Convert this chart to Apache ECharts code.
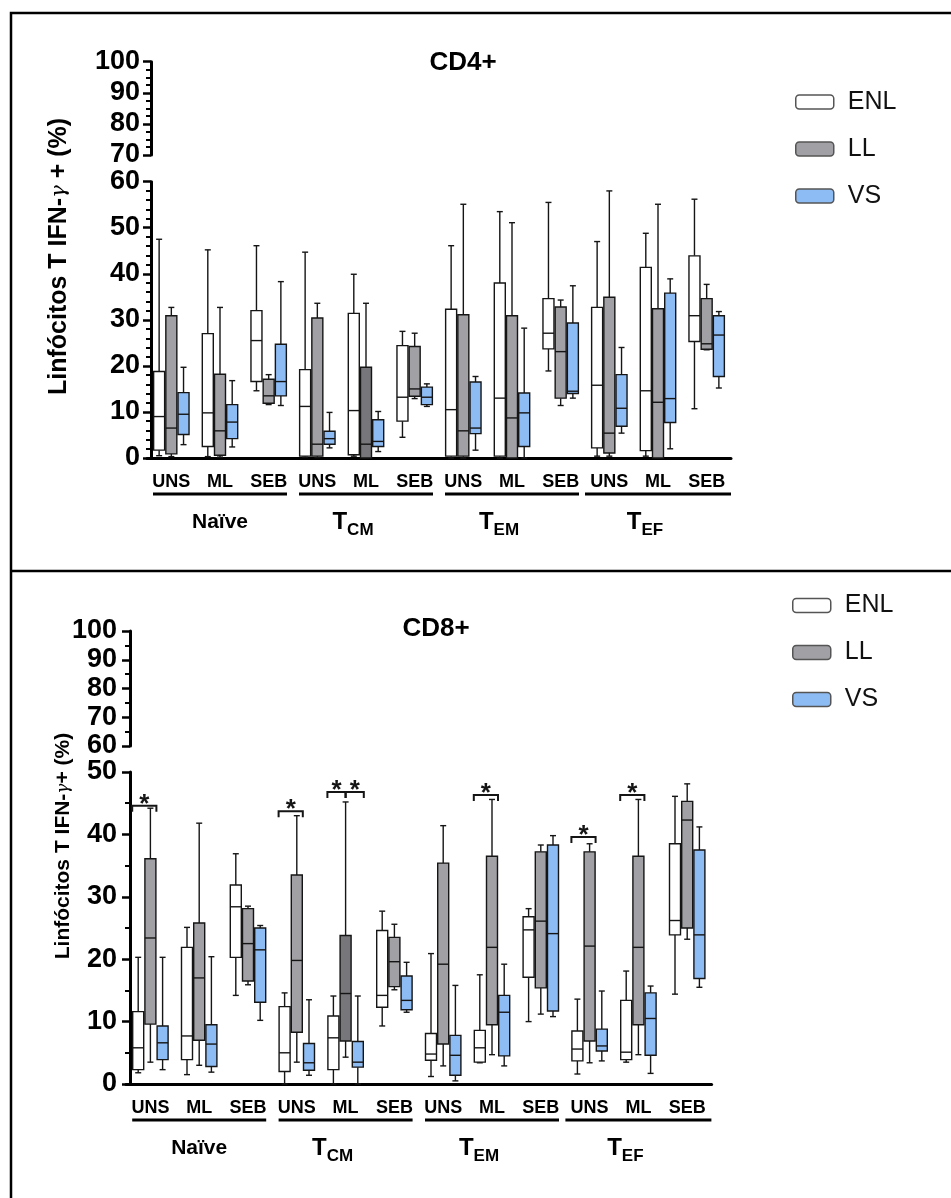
<!DOCTYPE html>
<html>
<head>
<meta charset="utf-8">
<script src="https://cdn.jsdelivr.net/npm/echarts@6/dist/echarts.min.js"></script>
<style>
  html, body { margin: 0; padding: 0; background: #fff; }
  #chart { width: 951px; height: 1198px; }
</style>
</head>
<body>
<div id="chart"></div>
<script>
// categories
const stimuli = ['UNS', 'ML', 'SEB'];
const cellTypes = ['Naïve', 'T_CM', 'T_EM', 'T_EF'];
const groupNames = ['ENL', 'LL', 'VS'];
const categories = [].concat(...cellTypes.map(() => stimuli));

// [min, q1, median, q3, max] for each category, in the order of `categories`
const cd4ENL = [
  [0.5, 1.7, 9.0, 18.8, 47.5], [0.3, 2.5, 9.8, 27.0, 45.2], [14.6, 16.6, 25.5, 32.0, 46.1],
  [0.2, 0.4, 11.2, 19.2, 44.7], [0.4, 0.7, 10.3, 31.4, 39.9], [4.5, 8.0, 13.2, 24.4, 27.5],
  [0, 0.4, 10.5, 32.3, 46.1], [0, 0.4, 13.0, 38.0, 53.5], [18.9, 23.7, 27.1, 34.6, 55.5],
  [0.4, 2.2, 15.8, 32.7, 47.0], [0.4, 1.6, 14.6, 41.4, 48.8], [10.7, 25.3, 30.9, 43.9, 56.2]
];
const cd4LL = [
  [0.3, 0.9, 6.5, 30.9, 32.7], [0.2, 0.6, 5.9, 18.2, 32.7], [11.6, 11.9, 13.5, 17.1, 18.1],
  [0.1, 0.4, 3.0, 30.4, 33.6], [0, 0, 3.0, 19.7, 33.6], [12.9, 13.4, 15.0, 24.2, 27.1],
  [0, 0.4, 5.9, 31.1, 55.1], [0, 0, 8.7, 30.9, 51.1], [11.4, 13.0, 23.1, 32.8, 34.3],
  [0.4, 1.1, 5.4, 34.9, 58.0], [0, 0, 12.1, 32.4, 55.1], [23.5, 23.6, 24.8, 34.6, 37.7]
];
const cd4VS = [
  [2.9, 5.1, 9.5, 14.2, 19.7], [2.4, 4.2, 7.8, 11.6, 16.8], [11.4, 13.5, 16.6, 24.7, 38.3],
  [2.2, 3.0, 4.2, 5.8, 9.9], [1.4, 2.5, 3.6, 8.3, 10.1], [11.2, 11.6, 13.2, 15.4, 16.1],
  [1.7, 5.3, 6.5, 16.5, 17.7], [0, 2.5, 9.8, 14.1, 28.2], [13.0, 14.0, 14.5, 29.3, 37.4],
  [5.4, 6.9, 10.8, 18.1, 24.0], [2.0, 7.7, 12.9, 35.8, 38.9], [15.2, 17.7, 26.7, 30.9, 31.8]
];

const cd8ENL = [
  [1.8, 2.3, 5.8, 11.6, 20.3], [1.5, 3.9, 7.7, 21.9, 25.1], [14.2, 20.3, 28.4, 31.9, 36.9],
  [0, 2.0, 5.0, 12.4, 14.6], [0, 2.3, 7.4, 10.9, 14.1], [9.3, 12.3, 14.2, 24.6, 27.7],
  [1.2, 3.8, 4.8, 8.1, 20.9], [3.4, 3.5, 5.8, 8.6, 17.5], [10.0, 17.1, 24.7, 26.8, 28.1],
  [1.6, 3.7, 5.6, 8.5, 13.6], [3.5, 3.9, 5.1, 13.4, 18.1], [14.4, 23.9, 26.2, 38.5, 46.1]
];
const cd8LL = [
  [3.5, 9.6, 23.4, 36.1, 44.2], [3.0, 7.0, 17.0, 25.8, 41.8], [15.9, 16.5, 22.5, 28.1, 28.5],
  [3.5, 8.3, 19.8, 33.5, 43.0], [4.3, 6.9, 14.5, 23.8, 45.2], [15.1, 15.6, 19.6, 23.5, 25.6],
  [2.9, 6.4, 19.2, 35.4, 41.4], [4.7, 9.5, 21.9, 36.5, 45.6], [11.2, 15.4, 26.1, 37.2, 38.3],
  [3.4, 6.9, 22.1, 37.2, 38.5], [4.7, 9.5, 21.9, 36.5, 45.6], [23.2, 25.0, 42.3, 45.3, 48.1]
];
const cd8VS = [
  [2.3, 3.9, 6.6, 9.3, 20.3], [1.9, 2.8, 6.4, 9.5, 20.4], [10.2, 13.1, 21.5, 25.0, 25.4],
  [1.4, 2.2, 3.4, 6.5, 13.5], [0, 2.7, 3.5, 6.8, 14.1], [11.5, 11.9, 13.4, 17.3, 19.5],
  [0.5, 1.4, 4.6, 7.8, 15.8], [2.9, 4.5, 11.5, 14.2, 19.2], [10.8, 11.7, 24.1, 38.3, 39.8],
  [3.7, 5.3, 6.1, 8.8, 14.9], [1.7, 4.6, 10.5, 14.6, 15.7], [15.5, 16.9, 23.9, 37.5, 41.2]
];

// significance brackets: [category, from box slot, to box slot, height]
const cd8Brackets = [
  [0, 0, 1, 44.6], [3, 0, 1, 43.7], [4, 0, 0.5, 46.8], [4, 1.5, 2, 46.8],
  [7, 0, 1, 46.3], [9, 0, 1, 39.6], [10, 0, 1, 46.3]
];

const FONT = 'Liberation Sans, Arial, Helvetica, sans-serif';
const fills = ['#ffffff', '#a0a0a5', '#8dbcf5'];
const darkerLL = { 4: '#77777b' };   // T_CM / ML box of LL is printed darker
const STROKE = '#151515';
const SLOT = 12.2;   // px between boxes of one category
const BOX_W = 11;
const CAP_W = 6;

function boxRender(slot, fill) {
  return function (params, api) {
    const cat = api.value(0);
    const pMin = api.coord([cat, api.value(1)]);
    const pQ1 = api.coord([cat, api.value(2)]);
    const pMed = api.coord([cat, api.value(3)]);
    const pQ3 = api.coord([cat, api.value(4)]);
    const pMax = api.coord([cat, api.value(5)]);
    const x = pMin[0] + (slot - 1) * SLOT;
    const h = BOX_W / 2, c = CAP_W / 2;
    const boxFill = slot === 1 && darkerLL[cat] ? darkerLL[cat] : fill;
    const ln = (x1, y1, x2, y2) => ({
      type: 'line', shape: { x1, y1, x2, y2 },
      style: { stroke: STROKE, lineWidth: 1.4 }
    });
    return {
      type: 'group',
      children: [
        ln(x, pMax[1], x, pQ3[1]),
        ln(x, pQ1[1], x, pMin[1]),
        ln(x - c, pMax[1], x + c, pMax[1]),
        ln(x - c, pMin[1], x + c, pMin[1]),
        {
          type: 'rect',
          shape: { x: x - h, y: pQ3[1], width: BOX_W, height: pQ1[1] - pQ3[1] },
          style: { fill: boxFill, stroke: STROKE, lineWidth: 1.4 }
        },
        ln(x - h, pMed[1], x + h, pMed[1])
      ]
    };
  };
}

function boxSeries(rows, slot, xi, yi) {
  return {
    type: 'custom',
    name: groupNames[slot],
    xAxisIndex: xi,
    yAxisIndex: yi,
    itemStyle: { color: fills[slot], borderColor: STROKE },
    encode: { x: 0, y: [1, 2, 3, 4, 5] },
    data: rows.map((r, i) => [i].concat(r)),
    renderItem: boxRender(slot, fills[slot]),
    z: 3
  };
}

function bracketSeries(rows, xi, yi) {
  return {
    type: 'custom',
    xAxisIndex: xi,
    yAxisIndex: yi,
    encode: { x: 0, y: 3 },
    data: rows,
    z: 4,
    renderItem: function (params, api) {
      const p = api.coord([api.value(0), api.value(3)]);
      const x1 = p[0] + (api.value(1) - 1) * SLOT - 6;
      const x2 = p[0] + (api.value(2) - 1) * SLOT + 6;
      const y = p[1];
      return {
        type: 'group',
        children: [
          {
            type: 'polyline',
            shape: { points: [[x1, y + 6], [x1, y], [x2, y], [x2, y + 6]] },
            style: { stroke: STROKE, lineWidth: 2, fill: null }
          },
          {
            type: 'text',
            style: {
              text: '*', x: (x1 + x2) / 2, y: y + 12, align: 'center', verticalAlign: 'bottom',
              font: 'bold 26px ' + FONT, fill: STROKE
            }
          }
        ]
      };
    }
  };
}

// layout of the two panels
const panels = [
  { left: 147, width: 584, upTop: 61.7, upBottom: 155, lowTop: 181.7, base: 458,
    upMin: 70, upMinor: 4, lowMax: 60, lowMinor: 5, labelMargin: 11,
    nameTop: 58, nameBottom: 455, nameGap: 75, nameSize: 25,
    nameText: '{a|Linfócitos T IFN-}{g|γ}{a| + (%)}' },
  { left: 126, width: 585.6, upTop: 631, upBottom: 746, lowTop: 772, base: 1084,
    upMin: 60, upMinor: 2, lowMax: 50, lowMinor: 2, labelMargin: 13,
    nameTop: 620, nameBottom: 1072, nameGap: 52, nameSize: 21,
    nameText: '{a|Linfócitos T IFN-}{g|γ}{a|+ (%)}' }
];

const grid = [], xAxis = [], yAxis = [];
const axisLine = { show: true, lineStyle: { color: '#000', width: 3 } };
const tickLabel = { color: '#000', fontFamily: FONT, fontWeight: 'bold', fontSize: 27 };

panels.forEach((p, k) => {
  const g0 = k * 3;
  grid.push({ left: p.left, width: p.width, top: p.upTop, height: p.upBottom - p.upTop });
  grid.push({ left: p.left, width: p.width, top: p.lowTop, height: p.base - p.lowTop });
  grid.push({ left: p.left, width: p.width, top: p.nameTop, height: p.nameBottom - p.nameTop });

  // upper (break) segment
  xAxis.push({ type: 'category', gridIndex: g0, data: categories, show: false });
  yAxis.push({
    type: 'value', gridIndex: g0, min: p.upMin, max: 100, interval: 10, offset: -4,
    axisLine, axisTick: { show: true, length: 8, lineStyle: { color: '#000', width: 2.5 } },
    minorTick: { show: true, splitNumber: p.upMinor, length: 5, lineStyle: { color: '#000', width: 2 } },
    splitLine: { show: false },
    axisLabel: Object.assign({ margin: p.labelMargin }, tickLabel)
  });

  // lower segment with the data
  xAxis.push({
    type: 'category', gridIndex: g0 + 1, data: categories, position: 'bottom',
    axisLine, axisTick: { show: false },
    axisLabel: { interval: 0, margin: 15, color: '#000', fontFamily: FONT, fontWeight: 'bold', fontSize: 18 }
  });
  yAxis.push({
    type: 'value', gridIndex: g0 + 1, min: 0, max: p.lowMax, interval: 10, offset: -4,
    axisLine, axisTick: { show: true, length: 8, lineStyle: { color: '#000', width: 2.5 } },
    minorTick: { show: true, splitNumber: p.lowMinor, length: 5, lineStyle: { color: '#000', width: 2 } },
    splitLine: { show: false },
    axisLabel: Object.assign({ margin: p.labelMargin }, tickLabel)
  });

  // group labels under the stimulus labels
  xAxis.push({
    type: 'category', gridIndex: g0 + 1, data: cellTypes, position: 'bottom',
    axisLine: { show: false }, axisTick: { show: false },
    axisLabel: {
      interval: 0, margin: 34.5, color: '#000', fontFamily: FONT, fontWeight: 'bold',
      formatter: function (v, i) {
        const parts = v.split('_');
        const name = parts.length > 1 ? '{t|' + parts[0] + '}{s|' + parts[1] + '}' : '{n|' + v + '}';
        return (i === 3 ? '{bar2|}' : '{bar|}') + '\n' + name;
      },
      rich: {
        bar: { width: 134, height: 3, lineHeight: 3, backgroundColor: '#000' },
        bar2: { width: 146, height: 3, lineHeight: 3, backgroundColor: '#000' },
        n: { fontSize: 21, fontWeight: 'bold', fontFamily: FONT, lineHeight: 54, color: '#000' },
        t: { fontSize: 24, fontWeight: 'bold', fontFamily: FONT, lineHeight: 54, color: '#000' },
        s: { fontSize: 17, fontWeight: 'bold', fontFamily: FONT, lineHeight: 54, color: '#000',
             padding: [16, 26, 0, 0] }
      }
    }
  });

  // axis title spanning both segments
  xAxis.push({ type: 'category', gridIndex: g0 + 2, data: categories, show: false });
  yAxis.push({
    type: 'value', gridIndex: g0 + 2, min: 0, max: 1,
    axisLine: { show: false }, axisTick: { show: false }, axisLabel: { show: false },
    splitLine: { show: false },
    name: p.nameText, nameLocation: 'middle', nameGap: p.nameGap,
    nameTextStyle: {
      color: '#000', fontFamily: FONT, fontWeight: 'bold', fontSize: p.nameSize,
      rich: {
        a: { color: '#000', fontFamily: FONT, fontWeight: 'bold', fontSize: p.nameSize },
        g: { color: '#000', fontFamily: 'DejaVu Serif', fontStyle: 'italic', fontWeight: 'normal',
             fontSize: p.nameSize - 4 }
      }
    }
  });
});

const legendData = groupNames.map((n, i) => ({
  name: n, icon: 'roundRect',
  itemStyle: { color: fills[i], borderColor: '#555', borderWidth: 1.5 }
}));
const legendBase = {
  orient: 'vertical', selectedMode: false, itemWidth: 38, itemHeight: 14, itemGap: 22,
  data: legendData,
  textStyle: { color: '#111', fontFamily: FONT, fontSize: 25, padding: [0, 0, 0, 9] }
};

const option = {
  animation: false,
  backgroundColor: '#fff',
  title: [
    { text: 'CD4+', left: 458, top: 45, textAlign: 'center',
      textStyle: { color: '#000', fontFamily: FONT, fontWeight: 'bold', fontSize: 26 } },
    { text: 'CD8+', left: 431, top: 611, textAlign: 'center',
      textStyle: { color: '#000', fontFamily: FONT, fontWeight: 'bold', fontSize: 26 } }
  ],
  legend: [
    Object.assign({ left: 790, top: 84.5 }, legendBase),
    Object.assign({ left: 787, top: 588 }, legendBase)
  ],
  grid,
  xAxis,
  yAxis,
  series: [
    boxSeries(cd4ENL, 0, 1, 1),
    boxSeries(cd4LL, 1, 1, 1),
    boxSeries(cd4VS, 2, 1, 1),
    boxSeries(cd8ENL, 0, 5, 4),
    boxSeries(cd8LL, 1, 5, 4),
    boxSeries(cd8VS, 2, 5, 4),
    bracketSeries(cd8Brackets, 5, 4)
  ],
  graphic: [
    { type: 'polyline', shape: { points: [[11, 1198], [11, 13], [951, 13]] },
      style: { stroke: '#000', lineWidth: 2.5, fill: null } },
    { type: 'line', shape: { x1: 11, y1: 571, x2: 951, y2: 571 },
      style: { stroke: '#000', lineWidth: 2.5 } }
  ]
};

const myChart = echarts.init(document.getElementById('chart'));
myChart.setOption(option);
</script>
</body>
</html>
